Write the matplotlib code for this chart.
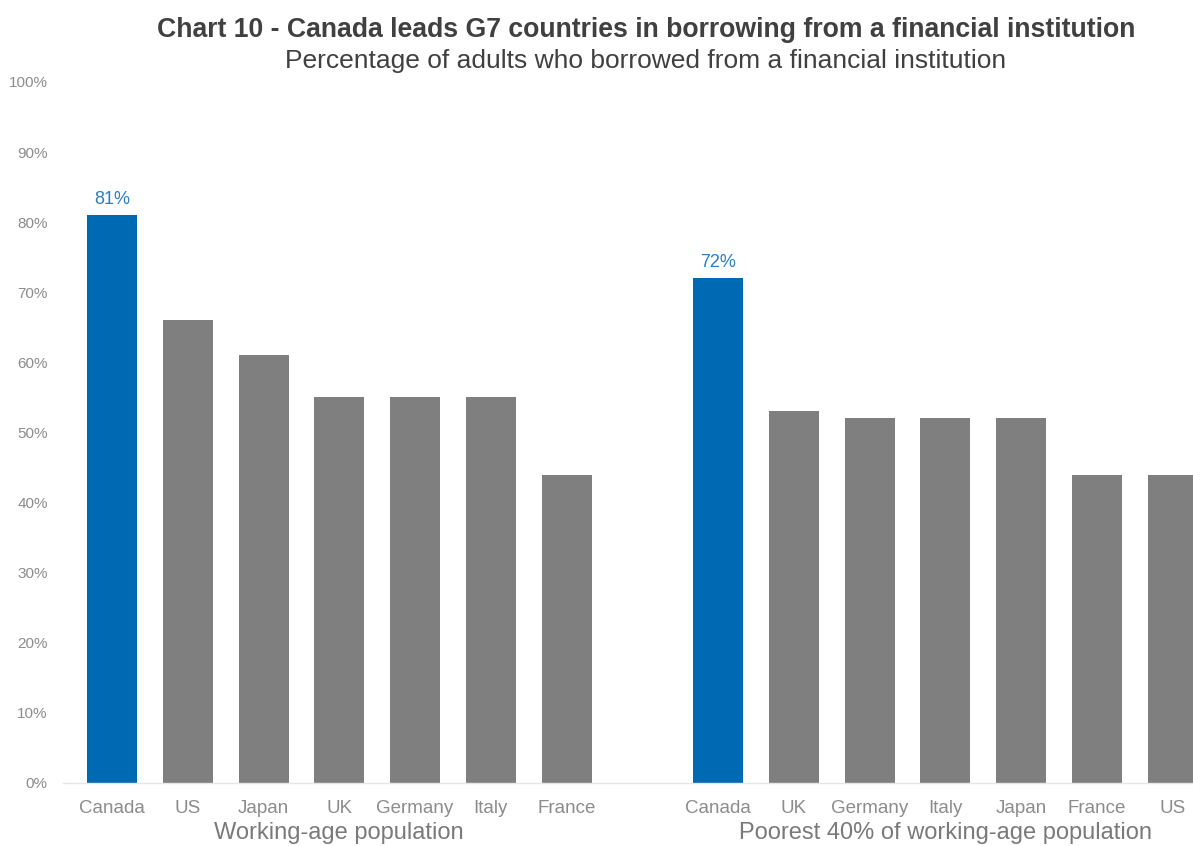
import matplotlib.pyplot as plt
from matplotlib.ticker import PercentFormatter

plt.rcParams['font.family'] = ['Liberation Sans', 'DejaVu Sans']

working_countries = ["Canada", "US", "Japan", "UK", "Germany", "Italy", "France"]
working_values = [81, 66, 61, 55, 55, 55, 44]

poorest_countries = ["Canada", "UK", "Germany", "Italy", "Japan", "France", "US"]
poorest_values = [72, 53, 52, 52, 52, 44, 44]

group_labels = ["Working-age population", "Poorest 40% of working-age population"]

blue = "#0069b4"
gray = "#7f7f7f"
tick_gray = "#8c8c8c"

fig = plt.figure(figsize=(11.93, 8.46), dpi=100)
ax = fig.add_axes([0.0528, 0.0745, 0.9472, 0.8286])

pos1 = list(range(len(working_countries)))
pos2 = [i + len(working_countries) + 1 for i in range(len(poorest_countries))]

colors1 = [blue if c == "Canada" else gray for c in working_countries]
colors2 = [blue if c == "Canada" else gray for c in poorest_countries]

ax.bar(pos1, working_values, width=0.66, color=colors1)
ax.bar(pos2, poorest_values, width=0.66, color=colors2)

# value labels on the Canada bars only
for p, v, c in zip(pos1 + pos2, working_values + poorest_values,
                   working_countries + poorest_countries):
    if c == "Canada":
        ax.text(p, v + 1.0, f"{v}%", ha="center", va="bottom",
                fontsize=13, color="#2a7fc4")

ax.set_xlim(-0.647, 14.27)
ax.set_ylim(0, 100)
ax.set_yticks(range(0, 101, 10))
ax.yaxis.set_major_formatter(PercentFormatter(decimals=0))
ax.set_xticks(pos1 + pos2)
ax.set_xticklabels(working_countries + poorest_countries)

ax.tick_params(axis="both", length=0, labelcolor=tick_gray)
ax.tick_params(axis="x", pad=12, labelsize=13.5)
ax.tick_params(axis="y", pad=11, labelsize=11)

for s in ["top", "right", "left"]:
    ax.spines[s].set_visible(False)
ax.spines["bottom"].set_color("#e6e6e6")
ax.spines["bottom"].set_linewidth(1.0)

ax.text(3, -7.1, group_labels[0], ha="center", va="center",
        fontsize=17, color="#7a7a7a", transform=ax.transData)
ax.text(11, -7.1, group_labels[1], ha="center", va="center",
        fontsize=17, color="#7a7a7a", transform=ax.transData)

fig.text(0.5415, 0.965, "Chart 10 - Canada leads G7 countries in borrowing from a financial institution",
         ha="center", va="center", fontsize=19.2, fontweight="bold", color="#404040")
fig.text(0.5415, 0.928, "Percentage of adults who borrowed from a financial institution",
         ha="center", va="center", fontsize=19, color="#404040")

fig.savefig("out.png", dpi=100)
